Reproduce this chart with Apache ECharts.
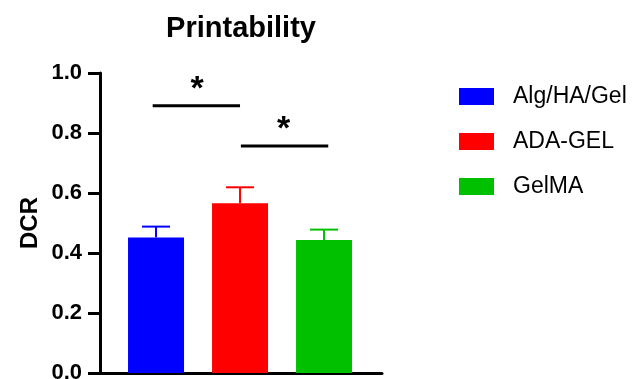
<!DOCTYPE html>
<html><head><meta charset="utf-8">
<script src="https://cdn.jsdelivr.net/npm/echarts@6/dist/echarts.min.js"></script>
<style>html,body{margin:0;padding:0;background:#fff}#c{width:640px;height:379px}</style>
</head><body><div id="c"></div>
<script>
const groups = ['Alg/HA/Gel', 'ADA-GEL', 'GelMA'];
const colors = ['#0000ff', '#ff0000', '#00c000'];
const means = [0.452, 0.566, 0.443];
const upper = [0.488, 0.619, 0.478];
const yTicks = [0, 0.2, 0.4, 0.6, 0.8, 1.0];
// significance brackets: [xStart, xEnd, y]
const sigLines = [[-0.04, 1.0, 0.891], [1.01, 2.05, 0.757]];
const sigStars = [[0.49, 0.945, '*'], [1.52, 0.81, '*']];

const F = '"Liberation Sans", Arial, sans-serif';
const chart = echarts.init(document.getElementById('c'), null, {renderer: 'canvas'});

const barSeries = groups.map((g, i) => ({
  name: g, type: 'bar', barWidth: 56, barGap: '-100%',
  itemStyle: {color: colors[i]},
  data: [[i, means[i]]], z: 2
}));

chart.setOption({
  animation: false,
  title: {text: 'Printability', left: 236, top: 9, textAlign: 'center',
    textStyle: {fontFamily: F, fontSize: 29, fontWeight: 'bold', color: '#000'}},
  legend: {orient: 'vertical', left: 454, top: 80, itemWidth: 35, itemHeight: 17, itemGap: 22,
    icon: 'rect', data: groups,
    textStyle: {fontFamily: F, fontSize: 23, color: '#000', padding: [0, 0, 0, 14]}},
  grid: {left: 100, right: 258, top: 73, bottom: 6, containLabel: false, outerBoundsMode: 'none'},
  xAxis: {type: 'value', min: -0.667, max: 2.69,
    axisLine: {show: true, onZero: false, lineStyle: {color: '#000', width: 3}},
    axisTick: {show: false}, axisLabel: {show: false}, splitLine: {show: false}},
  yAxis: {type: 'value', min: 0, max: 1, interval: 0.2,
    name: 'DCR', nameLocation: 'middle', nameGap: 58, nameRotate: 90,
    nameTextStyle: {fontFamily: F, fontSize: 24, fontWeight: 'bold', color: '#000'},
    axisLine: {show: true, onZero: false, lineStyle: {color: '#000', width: 3}},
    axisTick: {show: true, length: 12, lineStyle: {color: '#000', width: 3}},
    axisLabel: {fontFamily: F, fontSize: 22, fontWeight: 'bold', color: '#000', margin: 18,
      formatter: v => v.toFixed(1)},
    splitLine: {show: false}},
  series: barSeries.concat([
    {type: 'custom', name: 'err', z: 3,
      data: means.map((m, i) => [i, m, upper[i]]),
      renderItem: (params, api) => {
        const i = api.value(0);
        const p0 = api.coord([i, api.value(1)]);
        const p1 = api.coord([i, api.value(2)]);
        const c = colors[params.dataIndex];
        return {type: 'group', children: [
          {type: 'line', shape: {x1: p0[0], y1: p0[1], x2: p1[0], y2: p1[1]}, style: {stroke: c, lineWidth: 2}},
          {type: 'line', shape: {x1: p1[0] - 14, y1: p1[1], x2: p1[0] + 14, y2: p1[1]}, style: {stroke: c, lineWidth: 2}}
        ]};
      }},
    {type: 'custom', name: 'sig', z: 4,
      data: sigLines,
      renderItem: (params, api) => {
        const a = api.coord([api.value(0), api.value(2)]);
        const b = api.coord([api.value(1), api.value(2)]);
        return {type: 'line', shape: {x1: a[0], y1: a[1], x2: b[0], y2: b[1]}, style: {stroke: '#000', lineWidth: 3}};
      }},
    {type: 'custom', name: 'star', z: 4,
      data: sigStars,
      renderItem: (params, api) => {
        const p = api.coord([api.value(0), api.value(1)]);
        return {type: 'text', x: p[0], y: p[1], style: {text: '*', fontFamily: F, fontSize: 34, fontWeight: 'bold', fill: '#000', align: 'center', verticalAlign: 'middle'}};
      }}
  ])
});
</script></body></html>
